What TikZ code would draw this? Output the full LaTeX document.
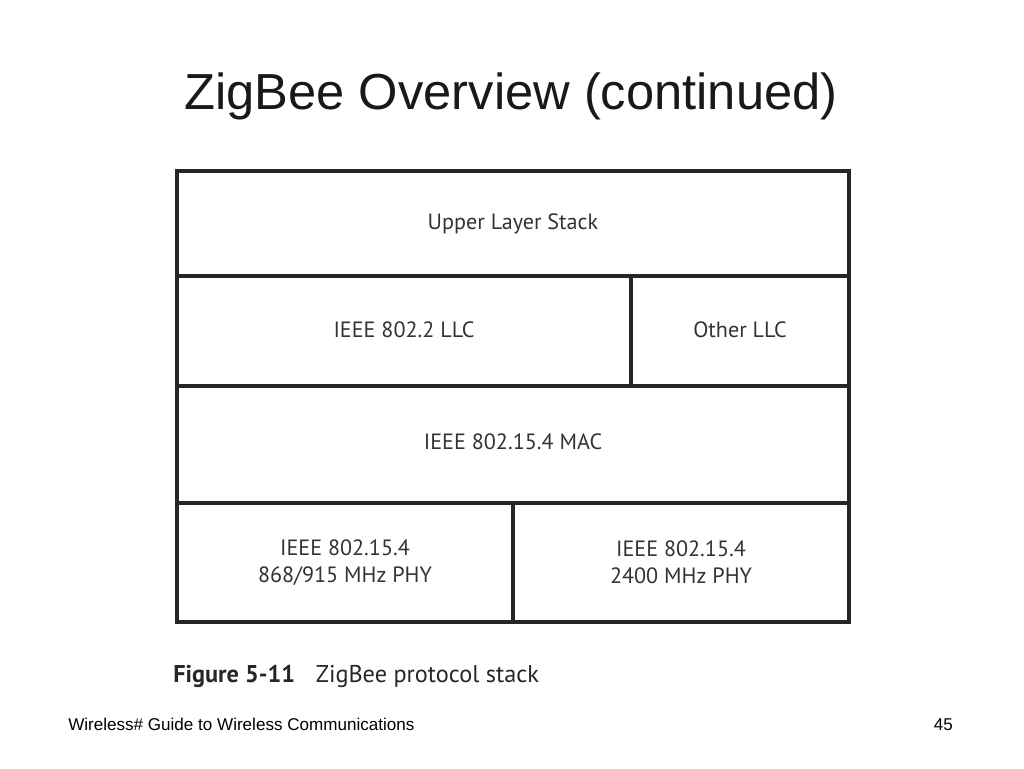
\documentclass[tikz,border=0pt]{standalone}
\usepackage{fontspec}
\setmainfont{Liberation Sans}
\newfontfamily\figfont{PT Sans}
\usetikzlibrary{positioning}

\tikzset{
	layer/.style={draw=black!85, line width=2.4pt, rectangle, inner sep=0pt,
		align=center, font=\figfont\fontsize{16.6}{20}\selectfont, text=black!80},
}

\begin{document}
\begin{tikzpicture}[x=0.75pt,y=-0.75pt]
	\useasboundingbox (0,0) rectangle (1024,768);
	\node[anchor=base, font=\fontsize{38}{44}\selectfont, text=black!90] (title) at (511,109) {ZigBee Overview (continued)};
	% protocol stack
	\node[layer, minimum width=504pt, minimum height=78.75pt] (upper) at (513,223.5) {\raisebox{2pt}{Upper Layer Stack}};
	\node[layer, minimum width=340.5pt, minimum height=82.5pt] (llc) at (404,331) {\raisebox{2pt}{IEEE 802.2 LLC}};
	\node[layer, minimum width=163.5pt, minimum height=82.5pt] (other) at (740,331) {\raisebox{2pt}{Other LLC}};
	\node[layer, minimum width=504pt, minimum height=87.75pt] (mac) at (513,444.5) {\raisebox{4pt}{IEEE 802.15.4 MAC}};
	\node[layer, minimum width=252pt, minimum height=89.25pt] (phya) at (345,562.5) {IEEE 802.15.4\\868/915 MHz PHY};
	\node[layer, minimum width=252pt, minimum height=89.25pt] (phyb) at (681,562.5) {IEEE 802.15.4\\2400 MHz PHY};
	% caption and footer
	\node[anchor=base west, inner sep=0pt, font=\figfont\fontsize{18.2}{22}\selectfont, text=black!85] (caption) at (173,682) {\textbf{Figure 5-11}\hspace{0.85em}ZigBee protocol stack};
	\node[anchor=base west, inner sep=0pt, font=\fontsize{12.8}{15}\selectfont] (footer) at (68,730) {Wireless\# Guide to Wireless Communications};
	\node[anchor=base east, inner sep=0pt, font=\fontsize{12.8}{15}\selectfont] (page) at (953,730) {45};
\end{tikzpicture}
\end{document}
